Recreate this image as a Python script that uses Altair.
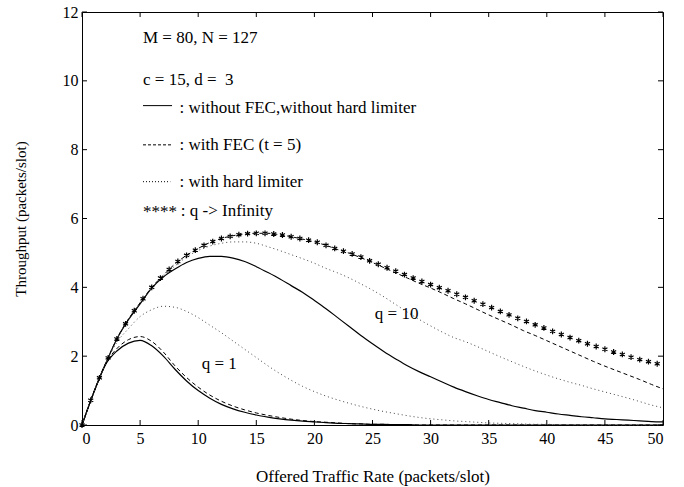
import altair as alt
import pandas as pd

# ---------------- data ----------------
x_line = list(range(0, 51))

solid_q1 = [0, 0.93, 1.74, 2.15, 2.38, 2.46, 2.3, 2.0, 1.62, 1.28,
            1.0, 0.78, 0.6, 0.47, 0.37, 0.29, 0.23, 0.18, 0.14, 0.11,
            0.09, 0.07, 0.05, 0.04, 0.03, 0.02, 0.02, 0.01, 0.01, 0,
            0, 0, 0, 0, 0, 0, 0, 0, 0, 0,
            0, 0, 0, 0, 0, 0, 0, 0, 0, 0, 0]
dashed_q1 = [0, 0.93, 1.76, 2.22, 2.48, 2.57, 2.43, 2.12, 1.72, 1.38,
             1.1, 0.87, 0.69, 0.55, 0.44, 0.35, 0.28, 0.22, 0.17, 0.13,
             0.1, 0.08, 0.06, 0.04, 0.03, 0.02, 0.02, 0.01, 0.01, 0,
             0, 0, 0, 0, 0, 0, 0, 0, 0, 0,
             0, 0, 0, 0, 0, 0, 0, 0, 0, 0, 0]
dotted_q1 = [0, 0.94, 1.76, 2.4, 2.8, 3.15, 3.35, 3.45, 3.42, 3.3,
             3.12, 2.9, 2.68, 2.44, 2.2, 1.96, 1.72, 1.5, 1.3, 1.12,
             0.97, 0.84, 0.73, 0.63, 0.54, 0.46, 0.39, 0.33, 0.27, 0.22,
             0.18, 0.15, 0.12, 0.1, 0.08, 0.06, 0.05, 0.04, 0.03, 0.02,
             0.02, 0.01, 0.01, 0, 0, 0, 0, 0, 0, 0, 0]
solid_q10 = [0, 0.94, 1.76, 2.5, 3.06, 3.52, 3.98, 4.3, 4.53, 4.72,
             4.84, 4.9, 4.9, 4.85, 4.75, 4.6, 4.43, 4.25, 4.05, 3.85,
             3.62, 3.38, 3.12, 2.86, 2.6, 2.36, 2.13, 1.92, 1.72, 1.55,
             1.4, 1.25, 1.1, 0.97, 0.85, 0.74, 0.65, 0.56, 0.49, 0.42,
             0.37, 0.32, 0.28, 0.24, 0.21, 0.18, 0.16, 0.14, 0.12, 0.1, 0.09]
dashed_q10 = [0, 0.94, 1.76, 2.5, 3.08, 3.55, 4.0, 4.35, 4.68, 4.93,
              5.13, 5.3, 5.42, 5.5, 5.55, 5.57, 5.57, 5.53, 5.47, 5.4,
              5.32, 5.22, 5.1, 4.99, 4.86, 4.72, 4.57, 4.42, 4.27, 4.12,
              3.98, 3.83, 3.67, 3.52, 3.36, 3.2, 3.05, 2.9, 2.74, 2.6,
              2.45, 2.3, 2.15, 2.0, 1.85, 1.71, 1.58, 1.45, 1.32, 1.18, 1.05]
dotted_q10 = [0, 0.94, 1.76, 2.5, 3.08, 3.55, 3.98, 4.32, 4.62, 4.88,
              5.07, 5.2, 5.28, 5.32, 5.32, 5.28, 5.18, 5.07, 4.95, 4.83,
              4.7, 4.55, 4.42, 4.27, 4.1, 3.92, 3.72, 3.5, 3.28, 3.07,
              2.88, 2.7, 2.54, 2.42, 2.28, 2.13, 1.98, 1.84, 1.7, 1.57,
              1.45, 1.34, 1.24, 1.15, 1.05, 0.96, 0.87, 0.78, 0.68, 0.58, 0.5]

x_star = [0, 0.75, 1.5, 2.25, 3.0, 3.75, 4.5, 5.25, 6.0, 6.75,
          7.5, 8.25, 9.0, 9.75, 10.5, 11.25, 12.0, 12.75, 13.5, 14.25,
          15.0, 15.75, 16.5, 17.25, 18.0, 18.75, 19.5, 20.25, 21.0, 21.75,
          22.5, 23.25, 24.0, 24.75, 25.5, 26.25, 27.0, 27.75, 28.5, 29.25,
          30.0, 30.75, 31.5, 32.25, 33.0, 33.75, 34.5, 35.25, 36.0, 36.75,
          37.5, 38.25, 39.0, 39.75, 40.5, 41.25, 42.0, 42.75, 43.5, 44.25,
          45.0, 45.75, 46.5, 47.25, 48.0, 48.75, 49.5]
star_inf = [0, 0.72, 1.37, 1.95, 2.5, 2.94, 3.32, 3.67, 4.0, 4.27,
            4.52, 4.75, 4.93, 5.08, 5.22, 5.33, 5.42, 5.48, 5.53, 5.56,
            5.57, 5.57, 5.55, 5.52, 5.47, 5.42, 5.37, 5.31, 5.22, 5.13,
            5.05, 4.97, 4.88, 4.77, 4.67, 4.57, 4.47, 4.37, 4.27, 4.17,
            4.08, 3.99, 3.9, 3.8, 3.71, 3.61, 3.51, 3.41, 3.3, 3.2,
            3.1, 3.01, 2.91, 2.82, 2.72, 2.63, 2.54, 2.45, 2.36, 2.28,
            2.2, 2.12, 2.05, 1.97, 1.9, 1.84, 1.78]

x_ticks = [0, 5, 10, 15, 20, 25, 30, 35, 40, 45, 50]
y_ticks = [0, 2, 4, 6, 8, 10, 12]

# annotation texts
ann_text = ["M = 80, N = 127", "c = 15, d =\u00a0 3",
            ": without FEC,without hard limiter", ": with FEC (t = 5)",
            ": with hard limiter", ": q -> Infinity", "****",
            "q = 1", "q = 10"]
ann_x = [5.25, 5.25, 8.4, 8.4, 8.4, 8.5, 5.25, 10.3, 25.2]
ann_y = [11.25, 10.02, 9.2, 8.15, 7.07, 6.23, 6.2, 1.77, 3.23]

FONT = "Liberation Serif"
W, H = 581, 413

def long(series):
    rows = []
    for name, ys in series:
        for xv, yv in zip(x_line, ys):
            rows.append({"x": xv, "y": yv, "curve": name})
    return pd.DataFrame(rows)

xs = alt.Scale(domain=[0, 50], nice=False, zero=False)
ys_ = alt.Scale(domain=[0, 12], nice=False)

X = alt.X("x:Q", scale=xs, axis=alt.Axis(
    values=x_ticks, title="Offered Traffic Rate (packets/slot)", ticks=False,
    domain=False, grid=False, labelFont=FONT, labelFontSize=16, labelPadding=5,
    labelColor="black", titleFont=FONT, titleFontSize=17, titleFontWeight="normal",
    titleColor="black", titleY=51, titleBaseline="middle"))
Y = alt.Y("y:Q", scale=ys_, axis=alt.Axis(
    values=y_ticks, title="Throughput (packets/slot)", ticks=False,
    domain=False, grid=False, labelFont=FONT, labelFontSize=16, labelPadding=4,
    labelColor="black", titleFont=FONT, titleFontSize=15, titleFontWeight="normal",
    titleColor="black", titleX=-62, titleBaseline="middle"))

solid = alt.Chart(long([("q1", solid_q1), ("q10", solid_q10)])).mark_line(
    color="black", strokeWidth=1.2, interpolate="monotone").encode(
    x=X, y=Y, detail="curve:N")
dashed = alt.Chart(long([("q1", dashed_q1), ("q10", dashed_q10)])).mark_line(
    color="black", strokeWidth=1, strokeDash=[4, 3], interpolate="monotone").encode(
    x="x:Q", y="y:Q", detail="curve:N")
dotted = alt.Chart(long([("q1", dotted_q1), ("q10", dotted_q10)])).mark_line(
    color="#444444", strokeWidth=1, strokeDash=[1, 3], interpolate="monotone").encode(
    x="x:Q", y="y:Q", detail="curve:N")

star_df = pd.DataFrame({"x": x_star, "y": star_inf})
stars = alt.Chart(star_df).mark_point(
    shape="M0,-1L0,1M-0.866,-0.5L0.866,0.5M-0.866,0.5L0.866,-0.5",
    filled=False, stroke="black", strokeWidth=1.2, size=34, opacity=1).encode(
    x="x:Q", y="y:Q")

ann_df = pd.DataFrame({"x": ann_x, "y": ann_y, "t": ann_text})
texts = alt.Chart(ann_df).mark_text(
    font=FONT, fontSize=17, align="left", baseline="middle", color="black").encode(
    x="x:Q", y="y:Q", text="t:N")

# legend line samples
leg_solid = alt.Chart(pd.DataFrame({"x": [5.25], "x2": [7.75], "y": [9.28]})).mark_rule(
    color="black", strokeWidth=1).encode(x="x:Q", x2="x2:Q", y="y:Q")
leg_dash = alt.Chart(pd.DataFrame({"x": [5.25], "x2": [7.75], "y": [8.14]})).mark_rule(
    color="black", strokeWidth=1, strokeDash=[3, 2]).encode(x="x:Q", x2="x2:Q", y="y:Q")
leg_dot = alt.Chart(pd.DataFrame({"x": [5.25], "x2": [7.6], "y": [7.07]})).mark_rule(
    color="black", strokeWidth=1, strokeDash=[1, 2]).encode(x="x:Q", x2="x2:Q", y="y:Q")

# inward tick marks on all four sides
xt = pd.DataFrame({"t": x_ticks})
yt = pd.DataFrame({"t": y_ticks})
tick_b = alt.Chart(xt).mark_rule(color="black").encode(
    x="t:Q", y=alt.value(H), y2=alt.value(H - 5))
tick_t = alt.Chart(xt).mark_rule(color="black").encode(
    x="t:Q", y=alt.value(0), y2=alt.value(5))
tick_l = alt.Chart(yt).mark_rule(color="black").encode(
    y="t:Q", x=alt.value(0), x2=alt.value(5))
tick_r = alt.Chart(yt).mark_rule(color="black").encode(
    y="t:Q", x=alt.value(W), x2=alt.value(W - 5))

chart = alt.layer(
    solid, dashed, dotted, stars, texts, leg_solid, leg_dash, leg_dot,
    tick_b, tick_t, tick_l, tick_r
).properties(
    width=W, height=H,
    autosize=alt.AutoSizeParams(type="none"),
    padding={"left": 82, "top": 12, "right": 21, "bottom": 62},
    background="white",
).configure_view(stroke="black", strokeWidth=1)

chart.save("out.html", embed_options={"renderer": "svg", "actions": False})
